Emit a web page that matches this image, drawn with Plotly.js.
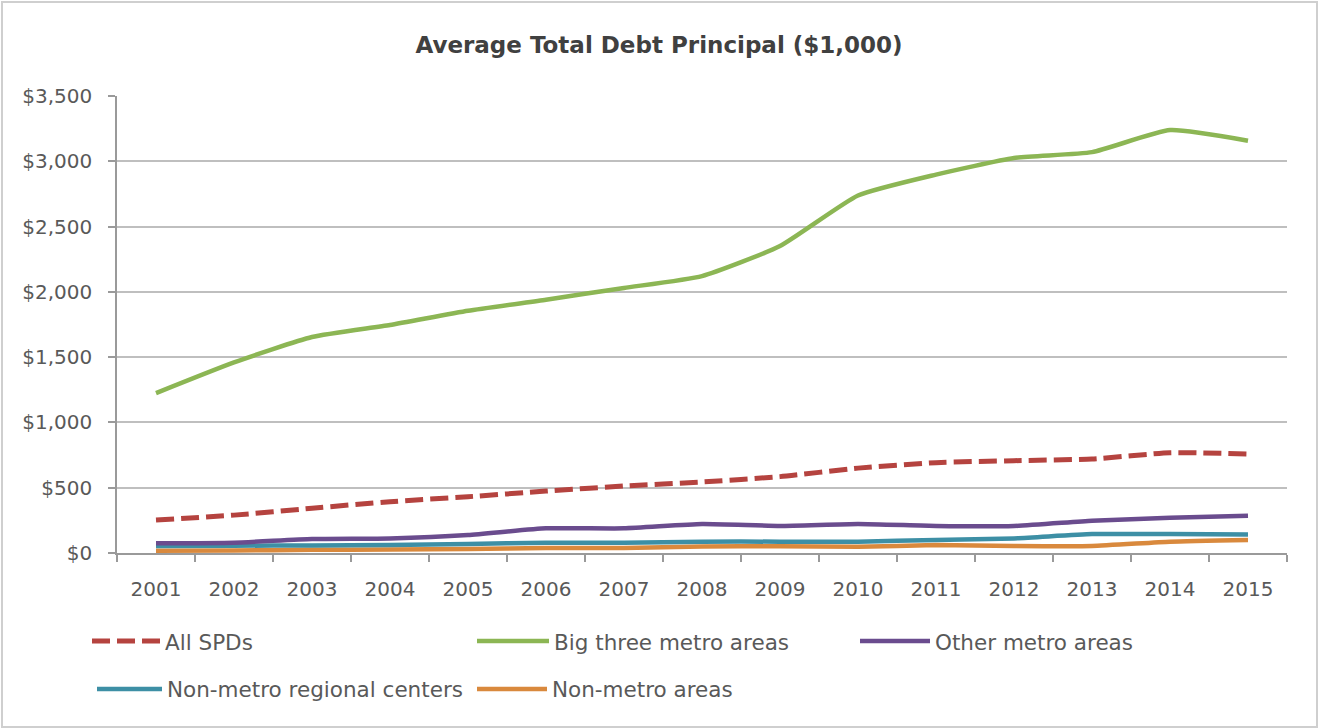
<!DOCTYPE html>
<html>
<head>
<meta charset="utf-8">
<script src="https://cdn.plot.ly/plotly-3.0.1.min.js"></script>
<style>
  html, body { margin: 0; padding: 0; background: #fff; }
  #wrap { position: relative; width: 1318px; height: 728px; }
  #chart { position: absolute; left: 0; top: 0; width: 1318px; height: 728px; }
  #frame { position: absolute; left: 1px; top: 1px; width: 1313px; height: 723px; border: 2px solid #cfcfcf; pointer-events: none; }
</style>
</head>
<body>
<div id="wrap"><div id="chart"></div><div id="frame"></div></div>
<script>
const years = ['2001','2002','2003','2004','2005','2006','2007','2008','2009','2010','2011','2012','2013','2014','2015'];
const allSPDs   = [253, 290, 343, 393, 431, 474, 513, 544, 585, 650, 692, 707, 720, 768, 758];
const bigThree  = [1225, 1460, 1654, 1746, 1855, 1940, 2030, 2121, 2351, 2738, 2898, 3025, 3070, 3239, 3158];
const otherMetro = [74, 79, 107, 112, 138, 189, 189, 222, 207, 222, 207, 207, 247, 270, 286];
const nonMetroRegional = [54, 56, 58, 62, 68, 79, 79, 87, 87, 87, 100, 112, 145, 145, 142];
const nonMetro  = [18, 20, 24, 27, 30, 38, 38, 49, 52, 47, 61, 54, 54, 87, 100];
const seriesNames = ['All SPDs', 'Big three metro areas', 'Other metro areas', 'Non-metro regional centers', 'Non-metro areas'];
const yTickVals = [0, 500, 1000, 1500, 2000, 2500, 3000, 3500];
const yTickText = ['$0', '$500', '$1,000', '$1,500', '$2,000', '$2,500', '$3,000', '$3,500'];

const FONT = 'DejaVu Sans, Verdana, sans-serif';
function tr(y, name, color, dash, legend, width) {
  return {
    x: years, y: y, name: name, type: 'scatter', mode: 'lines', legend: legend,
    line: { color: color, width: width, dash: dash, shape: 'spline', smoothing: 0.5 },
    hoverinfo: 'x+y+name'
  };
}
const data = [
  tr(nonMetro, seriesNames[4], '#d9893d', 'solid', 'legend5', 4.5),
  tr(nonMetroRegional, seriesNames[3], '#3d8fa5', 'solid', 'legend4', 4.5),
  tr(otherMetro, seriesNames[2], '#6a4c8e', 'solid', 'legend3', 4.5),
  tr(bigThree, seriesNames[1], '#8cb654', 'solid', 'legend2', 4.5),
  tr(allSPDs, seriesNames[0], '#b5433f', '18px,7px', 'legend', 5)
];

function leg(xp, y, iw) {
  return {
    orientation: 'h', xanchor: 'left', yanchor: 'top',
    x: (xp - 117) / 1170, y: y, itemwidth: iw,
    font: { family: FONT, size: 21.5, color: '#595959' }, bgcolor: 'rgba(0,0,0,0)'
  };
}
const row1 = -0.148, row2 = -0.253;

const layout = {
  width: 1318, height: 728,
  margin: { l: 117, r: 31, t: 96, b: 175 },
  paper_bgcolor: '#ffffff', plot_bgcolor: '#ffffff',
  font: { family: FONT, size: 20, color: '#595959' },
  title: {
    text: '<b>Average Total Debt Principal ($1,000)</b>',
    font: { family: FONT, size: 23, color: '#404040' },
    x: 0.5, xanchor: 'center', y: 0.938, yanchor: 'middle'
  },
  xaxis: {
    type: 'category', range: [-0.5, 14.5], showgrid: false, zeroline: false,
    showline: true, linecolor: '#9a9a9a', linewidth: 1.5,
    ticks: 'outside', tickson: 'boundaries', ticklen: 7, tickcolor: '#9a9a9a', tickwidth: 1.5,
    ticklabelstandoff: 17,
    tickfont: { family: FONT, size: 20, color: '#595959' },
    fixedrange: true
  },
  yaxis: {
    range: [0, 3500], tickvals: yTickVals, ticktext: yTickText,
    showgrid: true, gridcolor: '#bfbfbf', gridwidth: 1.5,
    zeroline: false, showline: true, linecolor: '#9a9a9a', linewidth: 1.5,
    ticks: 'outside', ticklen: 7, tickcolor: '#9a9a9a', tickwidth: 1.5,
    ticklabelstandoff: 12,
    tickfont: { family: FONT, size: 20, color: '#595959' },
    fixedrange: true
  },
  legend: leg(87, row1, 68),
  legend2: leg(472, row1, 72),
  legend3: leg(855, row1, 70),
  legend4: leg(92, row2, 65),
  legend5: leg(472, row2, 70),
  showlegend: true,
  hovermode: 'closest'
};

Plotly.newPlot('chart', data, layout, { displayModeBar: false, responsive: false });
</script>
</body>
</html>
